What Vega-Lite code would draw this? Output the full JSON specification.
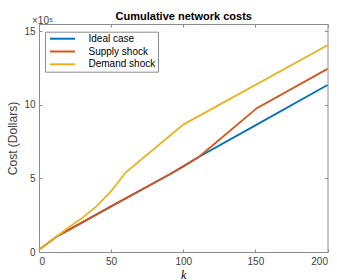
{
  "$schema": "https://vega.github.io/schema/vega-lite/v6.json",
  "width": 288.5,
  "height": 228,
  "autosize": {"type": "none"},
  "padding": {"left": 39, "top": 24, "right": 9.5, "bottom": 28},
  "background": "white",
  "title": {"text": "×10⁵", "anchor": "start", "frame": "group", "fontSize": 10, "fontWeight": "normal", "font": "Liberation Sans", "color": "#404040", "dx": -7, "dy": 15, "offset": 0},
  "config": {
    "view": {"stroke": null},
    "axis": {"grid": false, "domainColor": "#8c8c8c", "tickColor": "#8c8c8c", "labelFont": "Liberation Sans", "labelFontSize": 10, "labelColor": "#404040", "titleFont": "Liberation Sans", "titleFontWeight": "normal", "titleColor": "#404040", "tickSize": -3, "domainWidth": 1, "tickWidth": 1}
  },
  "data": {"values": [
    {"k": 0, "cost": 15000, "series": "Ideal case"},
    {"k": 12, "cost": 104000, "series": "Ideal case"},
    {"k": 20, "cost": 147000, "series": "Ideal case"},
    {"k": 50, "cost": 310000, "series": "Ideal case"},
    {"k": 91, "cost": 530000, "series": "Ideal case"},
    {"k": 100, "cost": 582000, "series": "Ideal case"},
    {"k": 111, "cost": 648000, "series": "Ideal case"},
    {"k": 150, "cost": 861000, "series": "Ideal case"},
    {"k": 200, "cost": 1135000, "series": "Ideal case"},
    {"k": 0, "cost": 15000, "series": "Supply shock"},
    {"k": 12, "cost": 104000, "series": "Supply shock"},
    {"k": 20, "cost": 147000, "series": "Supply shock"},
    {"k": 50, "cost": 310000, "series": "Supply shock"},
    {"k": 91, "cost": 530000, "series": "Supply shock"},
    {"k": 100, "cost": 582000, "series": "Supply shock"},
    {"k": 111, "cost": 648000, "series": "Supply shock"},
    {"k": 151, "cost": 978000, "series": "Supply shock"},
    {"k": 200, "cost": 1245000, "series": "Supply shock"},
    {"k": 0, "cost": 15000, "series": "Demand shock"},
    {"k": 12, "cost": 104000, "series": "Demand shock"},
    {"k": 20, "cost": 163000, "series": "Demand shock"},
    {"k": 30, "cost": 232000, "series": "Demand shock"},
    {"k": 40, "cost": 312000, "series": "Demand shock"},
    {"k": 50, "cost": 413000, "series": "Demand shock"},
    {"k": 60, "cost": 540000, "series": "Demand shock"},
    {"k": 100, "cost": 866000, "series": "Demand shock"},
    {"k": 200, "cost": 1405000, "series": "Demand shock"}
  ]},
  "layer": [
    {
      "mark": {"type": "line", "strokeWidth": 1.8},
      "encoding": {
        "x": {"field": "k", "type": "quantitative", "scale": {"domain": [0, 200], "nice": false},
          "axis": {"values": [0, 50, 100, 150, 200], "title": "k", "titleFont": "Liberation Serif", "titleFontStyle": "italic", "titleFontSize": 12, "titleColor": "#000", "titlePadding": 3, "labelPadding": 7}},
        "y": {"field": "cost", "type": "quantitative", "scale": {"domain": [0, 1550000], "nice": false},
          "axis": {"values": [0, 500000, 1000000, 1500000], "labelExpr": "format(datum.value/100000,'d')", "title": "Cost (Dollars)", "titleFontSize": 12, "labelPadding": 7, "titlePadding": 4}},
        "color": {"field": "series", "type": "nominal",
          "scale": {"domain": ["Ideal case", "Supply shock", "Demand shock"], "range": ["#0072BD", "#D95319", "#EDB120"]},
          "legend": {"title": null, "orient": "none", "legendX": 6, "legendY": 7.7, "symbolType": "M-3.125,0H3.125", "symbolSize": 64, "symbolStrokeWidth": 2, "symbolOffset": 10.5, "labelFont": "Liberation Sans", "labelFontSize": 10, "labelColor": "#000", "strokeColor": "#8c8c8c", "fillColor": "white", "padding": 2, "rowPadding": 2.8, "labelOffset": 21}}
      }
    },
    {
      "mark": {"type": "line", "opacity": 0},
      "encoding": {
        "x": {"field": "k", "type": "quantitative", "scale": {"domain": [0, 200], "nice": false},
          "axis": {"orient": "top", "values": [0, 50, 100, 150, 200], "labels": false, "title": "Cumulative network costs", "titleFontWeight": "bold", "titleFontSize": 11, "titleColor": "#000", "titlePadding": 2}},
        "y": {"field": "cost", "type": "quantitative", "scale": {"domain": [0, 1550000], "nice": false},
          "axis": {"orient": "right", "values": [0, 500000, 1000000, 1500000], "labels": false, "title": null}}
      }
    }
  ],
  "resolve": {"axis": {"x": "independent", "y": "independent"}}
}
